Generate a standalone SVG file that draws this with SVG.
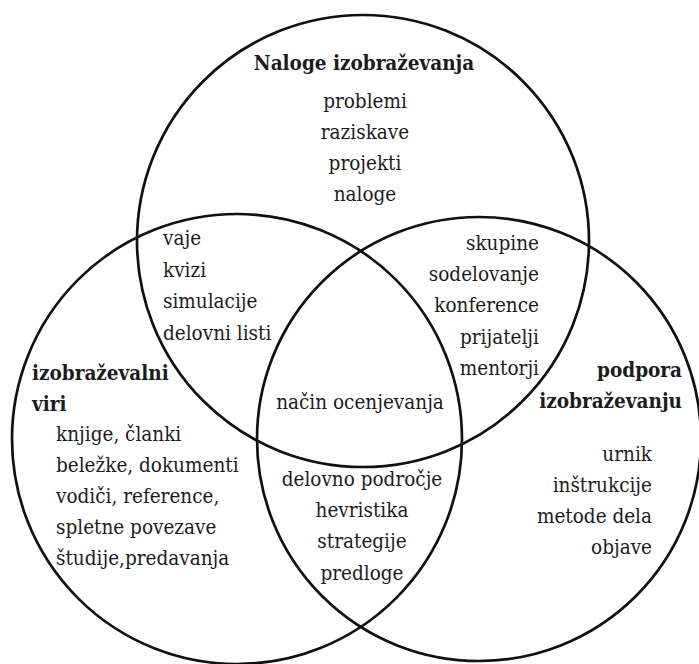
<svg xmlns="http://www.w3.org/2000/svg" width="699" height="664" viewBox="0 0 699 664">
<style>
  .c { fill: none; stroke: #111; stroke-width: 2.7; }
  text { font-family: 'DejaVu Serif', serif; font-stretch: condensed; font-size: 20.5px; fill: #1c1c1c; }
  .b { font-weight: bold; }
  .m { text-anchor: middle; }
  .e { text-anchor: end; }
</style>
<rect width="699" height="664" fill="#fff"/>
<g id="connectors">
  <circle id="circle-top" class="c" cx="363" cy="241" r="226"/>
  <circle id="circle-left" class="c" cx="237" cy="439" r="225"/>
  <circle id="circle-right" class="c" cx="479" cy="439" r="222"/>
</g>
<g id="node-naloge">
  <text class="b m" x="364" y="70">Naloge izobraževanja</text>
  <text class="m" x="365" y="108">problemi</text>
  <text class="m" x="365" y="139">raziskave</text>
  <text class="m" x="365" y="170">projekti</text>
  <text class="m" x="365" y="201">naloge</text>
</g>
<g id="node-naloge-viri">
  <text x="163" y="245">vaje</text>
  <text x="163" y="277">kvizi</text>
  <text x="163" y="308">simulacije</text>
  <text x="163" y="340">delovni listi</text>
</g>
<g id="node-naloge-podpora">
  <text class="e" x="539" y="250">skupine</text>
  <text class="e" x="539" y="281">sodelovanje</text>
  <text class="e" x="539" y="312">konference</text>
  <text class="e" x="539" y="344">prijatelji</text>
  <text class="e" x="539" y="375">mentorji</text>
</g>
<g id="node-viri">
  <text class="b" x="32" y="380">izobraževalni</text>
  <text class="b" x="32" y="411">viri</text>
  <text x="56" y="441">knjige, članki</text>
  <text x="56" y="472">beležke, dokumenti</text>
  <text x="56" y="503">vodiči, reference,</text>
  <text x="56" y="534">spletne povezave</text>
  <text x="56" y="565">študije,predavanja</text>
</g>
<g id="node-center">
  <text class="m" x="360" y="409">način ocenjevanja</text>
</g>
<g id="node-podpora">
  <text class="b e" x="682" y="377">podpora</text>
  <text class="b e" x="682" y="408">izobraževanju</text>
  <text class="e" x="652" y="461">urnik</text>
  <text class="e" x="652" y="492">inštrukcije</text>
  <text class="e" x="652" y="523">metode dela</text>
  <text class="e" x="652" y="554">objave</text>
</g>
<g id="node-viri-podpora">
  <text class="m" x="362" y="486">delovno področje</text>
  <text class="m" x="362" y="517">hevristika</text>
  <text class="m" x="362" y="548">strategije</text>
  <text class="m" x="362" y="580">predloge</text>
</g>
</svg>
